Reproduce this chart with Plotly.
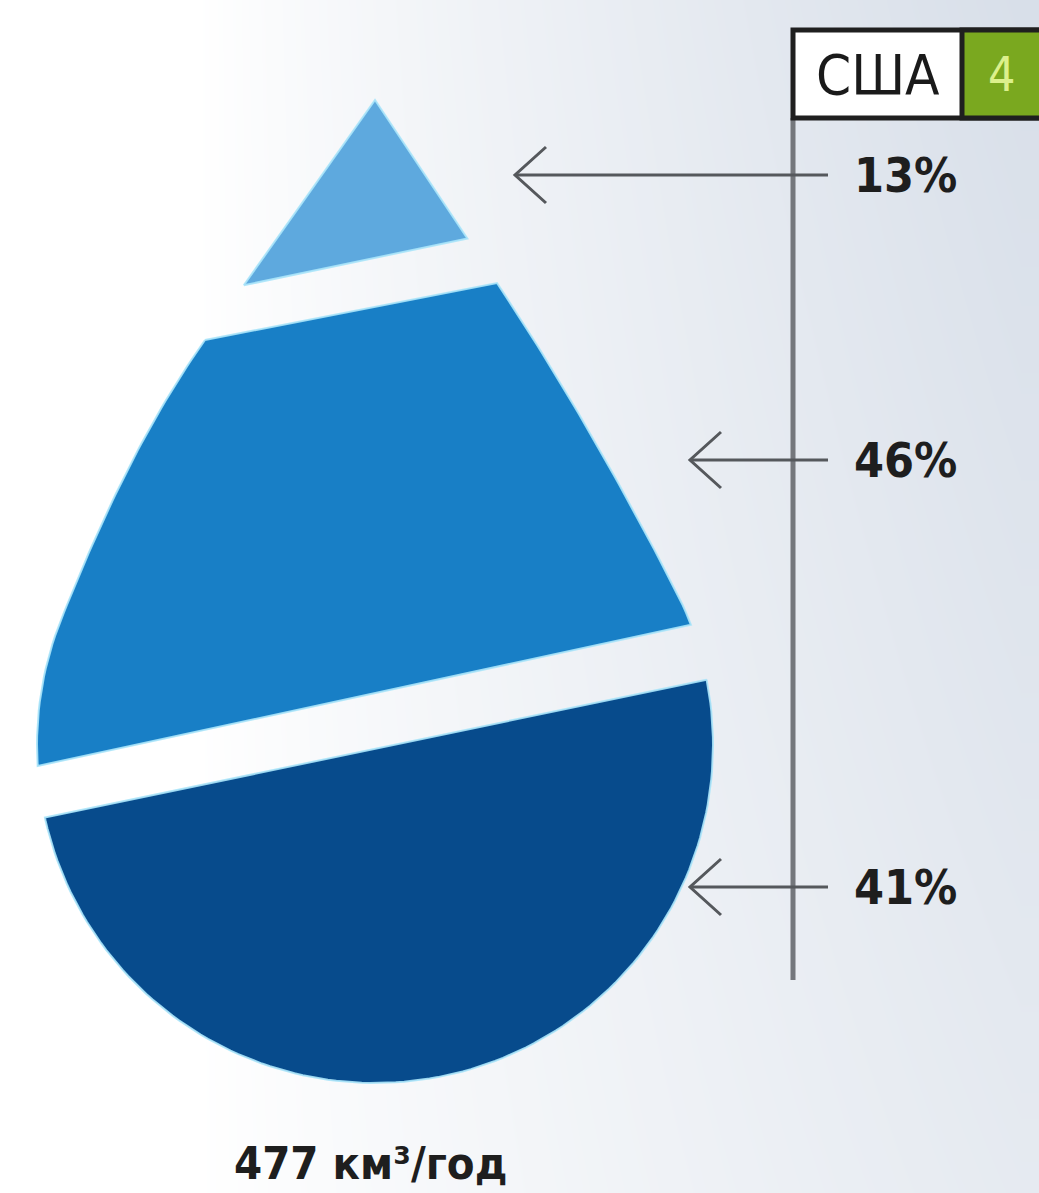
import numpy as np
import plotly.graph_objects as go

# ---- data -------------------------------------------------------------
country = "США"
rank = 4
shares = [13, 46, 41]                      # % of withdrawal, top to bottom
share_labels = [f"{s}%" for s in shares]
total_volume = 477                          # km³ per year
total_label = f"{total_volume} км³/год"

# ---- styling / layout -------------------------------------------------
W, H = 1039, 1193
piece_colors = ["#5ea9de", "#187fc6", "#074b8c"]
label_y = [175, 460, 887]                   # vertical position of each label row
arrow_tip_x = [515, 690, 690]
arrow_end_x = 828
label_x = 905
FONT = "DejaVu Sans Condensed, Roboto Condensed, Liberation Sans, sans-serif"

# drop geometry (pixel space, y pointing down)
TIP = np.array([375.0, 100.0])
CENTER = np.array([375.0, 745.0])
RADIUS = 338.0
RIGHT_SHOULDER = np.array([497.0, 283.0])   # where the right flank starts bending
LEFT_SHOULDER = np.array([205.0, 340.0])
RIGHT_JOIN_Y, LEFT_JOIN_Y = 590.0, 620.0    # flanks meet the round bottom here

# cut lines: (upper edge of gap, lower edge of gap), each given by two points
cuts = [
    (((245, 285), (470, 238)), ((205, 340), (497, 283))),
    (((42, 765), (690, 625)), ((48, 817), (705, 680))),
]


def bezier(p0, p1, p2, p3, n=40):
    t = np.linspace(0, 1, n)[:, None]
    return ((1 - t) ** 3 * p0 + 3 * (1 - t) ** 2 * t * p1
            + 3 * (1 - t) * t ** 2 * p2 + t ** 3 * p3)


def unit(v):
    v = np.asarray(v, float)
    return v / np.hypot(*v)


def circle_pt(y, sign):
    dy = y - CENTER[1]
    return np.array([CENTER[0] + sign * np.sqrt(RADIUS ** 2 - dy ** 2), y])


def build_drop():
    # right flank: straight from the tip, then a smooth bend onto the circle
    rj = circle_pt(RIGHT_JOIN_Y, +1)
    r_rad = rj - CENTER
    r_tan = unit([-r_rad[1], r_rad[0]])           # heading downwards
    d0 = unit(RIGHT_SHOULDER - TIP)
    L = np.hypot(*(rj - RIGHT_SHOULDER)) / 3
    right = bezier(RIGHT_SHOULDER, RIGHT_SHOULDER + d0 * L, rj - r_tan * L, rj)

    # round bottom, clockwise from the right join to the left join
    a0 = np.arctan2(*(rj - CENTER)[::-1])
    lj = circle_pt(LEFT_JOIN_Y, -1)
    a1 = np.arctan2(*(lj - CENTER)[::-1])
    if a1 < a0:
        a1 += 2 * np.pi
    ang = np.linspace(a0, a1, 160)
    bottom = np.column_stack([CENTER[0] + RADIUS * np.cos(ang),
                              CENTER[1] + RADIUS * np.sin(ang)])

    # left flank: bend off the circle into the straight line to the tip
    l_rad = lj - CENTER
    l_tan = unit([-l_rad[1], l_rad[0]])           # heading upwards
    d1 = unit(TIP - LEFT_SHOULDER)
    L = np.hypot(*(LEFT_SHOULDER - lj)) / 3
    left = bezier(lj, lj + l_tan * L, LEFT_SHOULDER - d1 * L, LEFT_SHOULDER)

    return np.vstack([TIP[None], right, bottom[1:], left[1:]])


def clip(poly, a, b, keep):
    """Keep the part of poly on one side of line a-b (keep=+1 below, -1 above)."""
    a, b = np.array(a, float), np.array(b, float)

    def side(p):
        return keep * ((b[0] - a[0]) * (p[1] - a[1]) - (b[1] - a[1]) * (p[0] - a[0]))

    def cross_pt(p, q):
        sp, sq = side(p), side(q)
        t = sp / (sp - sq)
        return p + t * (q - p)

    out = []
    for i in range(len(poly)):
        cur, prev = poly[i], poly[i - 1]
        sc, sp = side(cur), side(prev)
        if sc >= 0:
            if sp < 0:
                out.append(cross_pt(prev, cur))
            out.append(cur)
        elif sp >= 0:
            out.append(cross_pt(prev, cur))
    return np.array(out)


drop = build_drop()
pieces = [
    clip(drop, *cuts[0][0], keep=-1),
    clip(clip(drop, *cuts[0][1], keep=+1), *cuts[1][0], keep=-1),
    clip(drop, *cuts[1][1], keep=+1),
]

fig = go.Figure()

# soft background: white on the left, cool grey towards the right
gx = np.linspace(0, W, 60)
gy = np.linspace(0, H, 40)
GX, GY = np.meshgrid(gx, gy)
z = np.clip((GX - 200) / 820, 0, 1) ** 0.85 * (1 - 0.35 * GY / H)
fig.add_trace(go.Heatmap(
    x=gx, y=gy, z=z, zmin=0, zmax=1, zsmooth="best", showscale=False,
    colorscale=[[0, "#ffffff"], [1, "#d8dfe9"]], hoverinfo="skip",
))

for poly, col, name, s in zip(pieces, piece_colors, share_labels, shares):
    xs = np.append(poly[:, 0], poly[0, 0])
    ys = np.append(poly[:, 1], poly[0, 1])
    fig.add_trace(go.Scatter(
        x=xs, y=ys, mode="lines", fill="toself", fillcolor=col,
        line=dict(color="rgba(170,228,250,0.9)", width=2),
        name=name, hoverinfo="text", text=f"{s}%", showlegend=False,
    ))

shapes = []
# vertical guide line
shapes.append(dict(type="line", x0=793, x1=793, y0=118, y1=980,
                   line=dict(color="#74777c", width=5)))
# country box
shapes.append(dict(type="rect", x0=793, x1=1045, y0=30, y1=118,
                   fillcolor="#ffffff", line=dict(color="#1f1f1f", width=5)))
shapes.append(dict(type="rect", x0=962, x1=1045, y0=30, y1=118,
                   fillcolor="#7aa81f", line=dict(color="#1f1f1f", width=5)))

# arrows from the labels to the drop pieces
for y, tx in zip(label_y, arrow_tip_x):
    shapes.append(dict(type="line", x0=tx, x1=arrow_end_x, y0=y, y1=y,
                       line=dict(color="#55585c", width=3)))
    shapes.append(dict(type="path",
                       path=f"M {tx + 31} {y - 28} L {tx} {y} L {tx + 31} {y + 28}",
                       line=dict(color="#55585c", width=3)))

annotations = []
for y, lab in zip(label_y, share_labels):
    annotations.append(dict(x=label_x, y=y, text=f"<b>{lab}</b>", showarrow=False,
                            xanchor="center", yanchor="middle",
                            font=dict(family=FONT, size=48, color="#1e1e1e")))
annotations.append(dict(x=878, y=74, text=country, showarrow=False,
                        xanchor="center", yanchor="middle",
                        font=dict(family=FONT, size=56, color="#1a1a1a")))
annotations.append(dict(x=1001, y=74, text=str(rank), showarrow=False,
                        xanchor="center", yanchor="middle",
                        font=dict(family=FONT, size=48, color="#dcf08c")))
annotations.append(dict(x=370, y=1163, text=f"<b>{total_label}</b>", showarrow=False,
                        xanchor="center", yanchor="middle",
                        font=dict(family=FONT, size=45, color="#1e1e1e")))

fig.update_layout(
    width=W, height=H, margin=dict(l=0, r=0, t=0, b=0),
    paper_bgcolor="#ffffff", plot_bgcolor="#ffffff",
    xaxis=dict(range=[0, W], visible=False, fixedrange=True),
    yaxis=dict(range=[H, 0], visible=False, fixedrange=True),
    shapes=shapes, annotations=annotations, showlegend=False,
)

fig.write_html("out.html")
